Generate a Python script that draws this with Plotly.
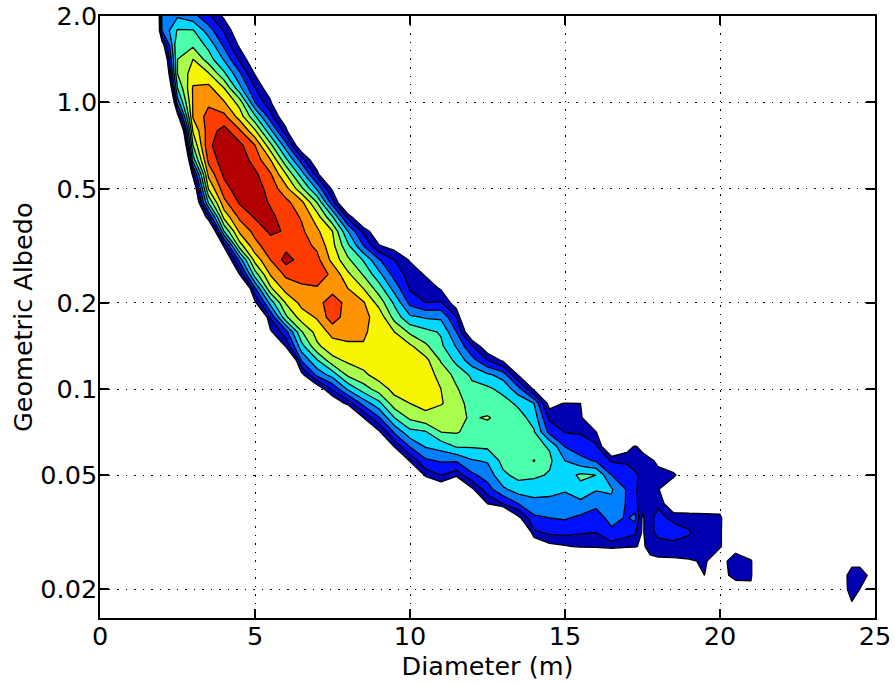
import plotly.graph_objects as go

diameters = [1.5,2,2.5,3,3.5,4,4.5,5,5.5,6,6.5,7,7.5,8,8.5,9,9.5,10,10.5,11,11.5,12,12.5,13,13.5,14,14.5,15,15.5,16,16.5,17,17.25,17.5,17.75,18,18.5,19,19.5,20,20.5,21,21.5,22,22.5,23,23.5,24,24.25,24.5,25]
albedos = [2.239,1.995,1.778,1.585,1.413,1.259,1.122,1.0,0.891,0.794,0.708,0.631,0.562,0.501,0.447,0.398,0.355,0.316,0.282,0.251,0.224,0.2,0.178,0.158,0.141,0.126,0.112,0.1,0.0891,0.0794,0.0708,0.0631,0.0562,0.0501,0.0447,0.0398,0.0355,0.0316,0.0282,0.0251,0.0224,0.02,0.0178,0.0158,0.0141]
outside = -3
# density read per albedo row, high albedo first: (first diameter, values)
density_rows = [
 [(1.5,[-9,2.8,3.8,3.9,2.8,1.5])],
 [(1.5,[-9,3.2,3.9,3.4,2.25,0.8])],
 [(1.5,[-9,3.0,5.1,5.1,3.5,1.9,0])],
 [(2,[0.3,6.0,5.8,4.7,2.8,0.8])],
 [(2,[-1.5,6.0,7.0,5.5,3.9,1.8,0])],
 [(2.5,[6.0,7.5,7.1,5.2,3.2,0.9])],
 [(2,[-5,5.0,8.1,8.3,7.0,4.3,2.0,0.1])],
 [(2,[-8,3.5,8.1,8.8,8.1,6.6,3.0,1.2])],
 [(2.5,[0.4,8.1,9.4,9.3,7.6,5.2,2.4,-0.2])],
 [(3,[7.1,9.5,10.4,9.2,7.2,4.3,1.4])],
 [(2.5,[-5,6.0,9.8,10.6,10.3,9.0,6.3,3.4,-0.3])],
 [(2.5,[-8,4.5,9.3,10.6,10.6,9.6,8.0,5.2,2.5,-0.3])],
 [(2.5,[-5,1.4,8.3,10.2,10.7,10.2,9.1,7.0,4.5,1.5])],
 [(3,[-0.5,7.1,9.6,10.6,10.5,9.6,8.3,6.2,3.8,0.7])],
 [(3,[-1.5,5.1,8.7,10.1,10.5,9.9,9.3,8.3,6.0,2.5,-1.7])],
 [(3.5,[1.8,7.3,9.2,10.1,10.2,9.6,8.9,7.5,5.1,1.7,-1])],
 [(3.5,[-2,5.0,8.2,9.3,10.2,9.9,9.2,8.2,7.0,4.0,1.7,-0.1])],
 [(4,[1.2,6.5,8.7,9.5,9.7,9.4,8.8,7.3,5.2,3.0,1.1,0.5])],
 [(4,[-1,3.3,7.4,9.0,10.4,9.6,9.3,7.7,6.2,4.9,3.1,2.0,0.9])],
 [(4.5,[1.0,5.5,8.1,9.2,9.6,9.5,8.8,7.2,5.9,4.3,2.6,1.6,0.9])],
 [(5,[2.8,6.8,8.4,8.7,8.9,8.4,8.0,7.0,5.5,3.6,1.9,1.6,0.9])],
 [(5,[0.8,4.4,7.1,8.3,8.4,9.9,8.4,8.1,6.6,4.8,2.7,2.0,2.1,0.27])],
 [(5.5,[2.1,5.8,7.5,8.1,9.6,8.4,8.2,7.7,5.6,4.2,3.9,3.8,2.05])],
 [(5.5,[0.8,2.6,5.9,7.4,8.3,8.4,8.2,7.4,7.0,5.8,5.3,4.9,3.0,-0.5])],
 [(6,[1.2,4.6,6.8,7.6,7.8,7.9,7.5,7.3,7.2,6.2,5.2,3.9,2.1,0])],
 [(6.5,[3.1,4.9,6.7,7.2,7.4,7.5,7.6,7.6,7.3,5.9,4.7,3.4,2.0,0.8])],
 [(6.5,[0.6,3.3,4.4,6.2,6.8,7.4,7.6,7.7,7.6,6.6,5.7,4.8,4.2,3.6,0.9])],
 [(7,[0,2.2,4.2,5.5,6.5,7.3,7.6,7.5,7.0,6.1,5.3,5.2,4.7,3.4,0.8])],
 [(7.5,[-0.25,1.4,3.4,4.7,6.6,7.0,7.3,7.1,6.4,5.6,5.4,5.4,4.8,4.0,0.5,1.1,1.0])],
 [(8.5,[1.0,2.9,5.0,6.2,6.7,6.2,6.2,5.9,6.1,5.6,5.4,4.6,1.8,1.5,1.5])],
 [(9,[0.8,3.2,4.7,4.9,6.0,6.1,5.6,5.5,5.5,5.6,5.1,2.7,1.95,1.9,1.1])],
 [(9.5,[1.2,3.1,4.1,4.4,5.1,5.1,5.2,5.4,5.5,5.3,4.9,2.95,2.5,2.2,-1,0.5,1.1,0.7,0.1])],
 [(10,[1.2,2.8,3.1,3.1,3.9,4.1,5.3,5.4,6.05,5.2,4.0,3.3,2.9,1.9,1.7,1.5,1.4,1.2,0.8])],
 [(10.5,[1.4,2.0,1.4,2.8,3.4,4.8,5.3,5.2,4.9,4.5,5.2,5.0,3.0,2.9,2.2,1.7,1.4,1.3,1.8])],
 [(11,[-0.1,-3,0.8,2.6,3.8,4.5,4.4,4.3,4.1,4.7,4.1,4.1,2.9,2.2,1.5,1.3,1.3])],
 [(12.5,[1.0,2.0,3.0,3.7,3.7,3.6,3.7,3.2,3.8,2.9,2.4,1.3,1.3,1.8,-0.2,-0.2,-0.1,-0.4])],
 [(13.5,[0.7,2.8,3.0,3.1,2.8,2.6,3.3,2.9,3.3,0.85,1.7,2.4,1.7,1.6,1.5,1.5])],
 [(14,[1.8,2.2,2.3,2.1,2.0,2.8,2.4,2.2,0.85,1.7,2.3,2.6,2.1,1.4,1.4])],
 [(14,[-0.5,0.64,0.87,1.15,1.2,1.5,1.2,1.1,0.8,1.4,1.5,1.6,1.6,1.2,1.05,0.5,-1])],
 [(17.75,[0.7,0.8,0.8,0.9,1.1,0.5,1.6,1.2]),(24.25,[0.4,0.5])],
 [(19.5,[1.0,0.5,1.4,1.2]),(24,[0.5,1.8,1.7,0.3])],
 [(20,[-1,0.26,0.7]),(24,[0.6,1.5,1.0,-1])],
 [(24.25,[0.9,-1])],
 [],
 [],
]
band_colors = ["rgba(255,255,255,0)","#0000B2","#0010FF","#0080FF","#00D8FF","#4CFFAA","#AAFF4C","#F8F500","#FF9400","#FF3C00","#B20000"]
x_ticks = [0,5,10,15,20,25]
y_ticks = [0.02,0.05,0.1,0.2,0.5,1.0,2.0]
y_labels = ["0.02","0.05","0.1","0.2","0.5","1.0","2.0"]

grid = []
for row in density_rows:
    vals = [outside]*len(diameters)
    for first, seg in row:
        k = diameters.index(first)
        vals[k:k+len(seg)] = seg
    grid.append(vals)

stops = [[i/10, c] for i, c in enumerate(band_colors)]
fig = go.Figure(go.Contour(
    x=diameters, y=albedos[::-1], z=grid[::-1],
    autocontour=False,
    contours=dict(start=1, end=10, size=1, coloring="fill", showlines=True),
    line=dict(color="black", width=1.3, smoothing=0),
    colorscale=stops, showscale=False, hoverinfo="skip"))
FONT = dict(family="DejaVu Sans", size=25.5, color="black")
axis = dict(automargin=True, showline=True, mirror="ticks", linecolor="black", linewidth=1.5, ticks="inside", ticklen=9,
            tickwidth=1.5, tickcolor="black", showgrid=True, gridcolor="black", gridwidth=1,
            griddash="1.5px,7px", zeroline=False, tickfont=FONT)
fig.update_layout(
    width=895, height=685, margin=dict(l=100, r=20, t=16, b=67, autoexpand=False),
    paper_bgcolor="white", plot_bgcolor="white", showlegend=False,
    font=FONT,
    xaxis=dict(axis, range=[0,25], tickvals=x_ticks, ticktext=[str(v) for v in x_ticks], ticklabelstandoff=-5,
               title=dict(text="Diameter (m)", font=FONT, standoff=0)),
    yaxis=dict(axis, type="log", range=[-1.7986,0.30103], tickvals=y_ticks, ticktext=y_labels, ticklabelstandoff=-4),
    annotations=[dict(text="Geometric Albedo", textangle=-90, showarrow=False, font=FONT,
                      xref="paper", yref="paper", x=-0.0994, y=0.5, xanchor="center", yanchor="middle")],
)
fig.write_html("out.html", config=dict(displayModeBar=False), post_script="document.body.style.margin='0';")
